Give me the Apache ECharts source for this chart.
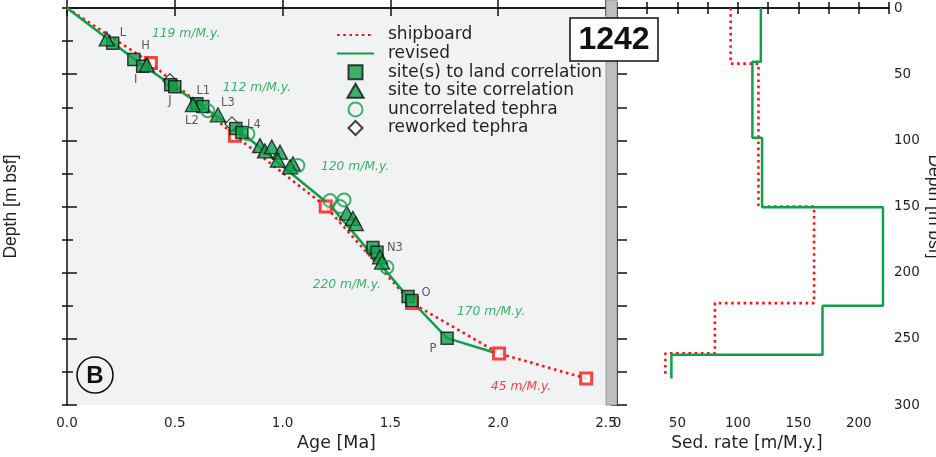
<!DOCTYPE html>
<html>
<head>
<meta charset="utf-8">
<script src="https://cdn.jsdelivr.net/npm/echarts@6/dist/echarts.min.js"></script>
<style>html,body{margin:0;padding:0;background:#fff}#c{width:936px;height:457px}</style>
</head>
<body>
<div id="c"></div>
<script>
// ---- data (age [Ma], depth [m bsf]) ----
const shipAge   = [0, 0.389, 0.779, 1.20, 1.60, 2.004, 2.408];
const shipDepth = [0, 41.5, 96.5, 150, 223, 261, 280];
const revAge    = [0, 0.324, 0.839, 1.22, 1.59, 1.763, 1.985];
const revDepth  = [0, 40, 98, 149, 220, 249.5, 260.5];

const landTies = [[0.212,26.6],[0.310,39],[0.351,44],[0.481,58],[0.500,59.5],[0.602,72.4],[0.630,74.5],
                  [0.783,91],[0.811,94],[1.419,181],[1.438,184.6],[1.582,218],[1.600,221],[1.763,249.5]];
const siteTies = [[0.184,23.4],[0.370,43],[0.584,73],[0.700,80.7],[0.895,104],[0.918,108],[0.950,105],
                  [0.988,109],[0.978,115],[1.048,117.8],[1.034,120],[1.298,155],[1.326,159],[1.340,163],
                  [1.452,188],[1.461,192]];
const uncorrTephra = [[0.653,77.6],[0.839,95],[1.071,119],[1.220,145.5],[1.285,145],[1.266,150],[1.484,196]];
const reworkTephra = [[0.477,55],[0.765,87.6]];

const tieLabels = [['L',0.259,19.2],['H',0.365,29],['I',0.319,54.6],['J',0.477,70.5],['L1',0.632,63],
                   ['L2',0.579,85.6],['L3',0.746,72],['L4',0.867,88.5],['N3',1.521,181],['O',1.665,215.4],['P',1.698,257.6]];
const rateLabelsRev = [['119 m/M.y.',0.552,19.2],['112 m/M.y.',0.881,60.6],['120 m/M.y.',1.336,120.2],
                       ['220 m/M.y.',1.298,209.2],['170 m/M.y.',1.967,229.5]];
const rateLabelsShip = [['45 m/M.y.',2.106,286]];

// sedimentation-rate steps (right panel)
const shipRateDepths = [0, 42, 150, 223, 261, 277];
const shipRates      = [94, 117, 163, 81, 40];
const revRateDepths  = [0, 40.7, 98, 150.5, 225, 262, 280];
const revRates       = [119, 112, 120, 220, 170, 45];

const ageTicks = {min:0, max:2.5, interval:0.5};
const rateTicks = {min:0, max:225, interval:25};
const depthTicks = {min:0, max:300};

// ---- helpers ----
const zip = (a,b) => a.map((v,i)=>[v,b[i]]);
function steps(depths, rates){
  const pts=[];
  for(let i=0;i<rates.length;i++){ pts.push([rates[i],depths[i]]); pts.push([rates[i],depths[i+1]]); }
  return pts;
}
const FONT = 'DejaVu Sans, Verdana, sans-serif';
const FONT_N = 'Liberation Sans, Arial, Helvetica, sans-serif';
const TXT = '#231f20';
const GREEN = '#0fa04b';
const RED = '#ff1212';
const axLine = {show:true, lineStyle:{color:'#111', width:1.5}};
const tick = (len) => ({inside:true, length:len, lineStyle:{color:'#111', width:1.5}});

const chart = echarts.init(document.getElementById('c'), null, {renderer:'canvas'});
chart.setOption({
  animation:false,
  backgroundColor:'#fff',
  textStyle:{fontFamily:FONT},
  grid:[
    {left:67, top:8, width:539, height:397, show:true, backgroundColor:'#f1f2f4', borderWidth:0, containLabel:false, outerBoundsMode:'none'},
    {left:617, top:8, width:272, height:397, show:false, containLabel:false, outerBoundsMode:'none'}
  ],
  legend:{
    data:[
      {name:'shipboard', itemStyle:{opacity:0}},
      {name:'revised', itemStyle:{opacity:0}},
      {name:'site(s) to land correlation', icon:'path://M0,0H10V10H0Z'},
      {name:'site to site correlation', icon:'path://M5,0L10.5,9.5H-0.5Z'},
      {name:'uncorrelated tephra'},
      {name:'reworked tephra', icon:'path://M5,0L10,5L5,10L0,5Z'}
    ],
    orient:'vertical', left:336, top:26.5, padding:0, itemWidth:37, itemHeight:14, itemGap:1.6,
    symbolKeepAspect:true,
    textStyle:{fontSize:17, color:TXT, fontFamily:FONT, padding:[0,0,0,9]},
    selectedMode:false
  },
  xAxis:[
    {gridIndex:0, type:'value', position:'bottom', ...ageTicks, axisLine:axLine, axisTick:tick(8),
     axisLabel:{formatter:v=>v.toFixed(1), fontSize:13.5, color:TXT, margin:11},
     splitLine:{show:false},
     name:'Age [Ma]', nameLocation:'middle', nameGap:26, nameTextStyle:{fontSize:17.5, color:TXT}},
    {gridIndex:0, type:'value', position:'top', ...ageTicks, axisLine:axLine, axisTick:tick(8),
     axisLabel:{show:false}, splitLine:{show:false}},
    {gridIndex:1, type:'value', position:'bottom', ...rateTicks, axisLine:axLine, axisTick:tick(6),
     axisLabel:{formatter:v=> (v%50===0 ? String(v) : ''), fontSize:13.5, color:TXT, margin:11},
     splitLine:{show:false},
     name:'Sed. rate [m/M.y.]', nameLocation:'middle', nameGap:26, nameTextStyle:{fontSize:17, color:TXT, padding:[0,12,0,0]}},
    {gridIndex:1, type:'value', position:'top', ...rateTicks, axisLine:axLine, axisTick:tick(6),
     axisLabel:{show:false}, splitLine:{show:false}}
  ],
  yAxis:[
    {gridIndex:0, type:'value', position:'left', inverse:true, ...depthTicks, interval:25, axisLine:axLine, axisTick:tick(6),
     axisLabel:{show:false}, splitLine:{show:false},
     name:'Depth [m bsf]', nameLocation:'middle', nameRotate:90, nameGap:47, nameTextStyle:{fontSize:17.5, color:TXT, fontFamily:FONT_N}},
    {gridIndex:0, type:'value', position:'right', inverse:true, ...depthTicks, interval:25, axisLine:{show:false}, axisTick:tick(5),
     axisLabel:{show:false}, splitLine:{show:false}},
    {gridIndex:1, type:'value', position:'left', inverse:true, ...depthTicks, interval:25, axisLine:axLine, axisTick:tick(10),
     axisLabel:{show:false}, splitLine:{show:false}},
    {gridIndex:1, type:'value', position:'right', inverse:true, ...depthTicks, interval:25, axisLine:axLine, axisTick:tick(6),
     axisLabel:{formatter:v=> (v%50===0 ? String(v) : ''), fontSize:13.5, color:TXT, margin:5},
     splitLine:{show:false},
     name:'Depth [m bsf]', nameLocation:'middle', nameRotate:-90, nameGap:36, nameTextStyle:{fontSize:17.5, color:TXT, fontFamily:FONT_N}},
    {gridIndex:0, type:'value', position:'left', offset:0, inverse:true, ...depthTicks, interval:50, axisLine:{show:false}, axisTick:tick(10),
     axisLabel:{show:false}, splitLine:{show:false}}
  ],
  graphic:[
    {type:'rect', shape:{x:606, y:0, width:11, height:405}, style:{fill:'#bdbec1', stroke:'#8f9093', lineWidth:0.8}, z:1},
    {type:'rect', shape:{x:570, y:18, width:88, height:43}, style:{fill:'#fff', stroke:'#111', lineWidth:1.5}, z:20},
    {type:'text', x:614, y:40, style:{text:'1242', font:'bold 32px '+FONT_N, fill:'#111', textAlign:'center', textVerticalAlign:'middle'}, z:21},
    {type:'circle', shape:{cx:95, cy:375, r:18}, style:{fill:'none', stroke:'#111', lineWidth:1.6}, z:20},
    {type:'text', x:95, y:376, style:{text:'B', font:'bold 24px '+FONT_N, fill:'#111', textAlign:'center', textVerticalAlign:'middle'}, z:21}
  ],
  series:[
    {name:'shipboard', type:'line', xAxisIndex:0, yAxisIndex:0, data:zip(shipAge,shipDepth), symbol:'none',
     lineStyle:{color:RED, width:2.6, type:[2.6,3.6]}, itemStyle:{color:RED}, z:2},
    {name:'revised', type:'line', xAxisIndex:0, yAxisIndex:0, data:zip(revAge,revDepth), symbol:'none',
     lineStyle:{color:GREEN, width:2.5}, itemStyle:{color:GREEN}, z:3},
    {name:'shipboard ties', type:'scatter', xAxisIndex:0, yAxisIndex:0, data:zip(shipAge,shipDepth).slice(1),
     symbol:'rect', symbolSize:11, itemStyle:{color:'#fff', borderColor:RED, borderWidth:3}, z:4},
    {name:'reworked tephra', type:'scatter', xAxisIndex:0, yAxisIndex:0, data:reworkTephra,
     symbol:'diamond', symbolSize:14, itemStyle:{color:'#fff', borderColor:'#111', borderWidth:1.2}, z:5},
    {name:'site(s) to land correlation', type:'scatter', xAxisIndex:0, yAxisIndex:0, data:landTies,
     symbol:'rect', symbolSize:12, itemStyle:{color:GREEN, borderColor:'#111', borderWidth:1.5}, z:6},
    {name:'site to site correlation', type:'scatter', xAxisIndex:0, yAxisIndex:0, data:siteTies,
     symbol:'triangle', symbolSize:[15,14], itemStyle:{color:GREEN, borderColor:'#111', borderWidth:1.3}, z:7},
    {name:'uncorrelated tephra', type:'scatter', xAxisIndex:0, yAxisIndex:0, data:uncorrTephra,
     symbol:'circle', symbolSize:13, itemStyle:{color:'rgba(0,0,0,0)', borderColor:GREEN, borderWidth:2}, z:8},
    {name:'tie labels', type:'scatter', xAxisIndex:0, yAxisIndex:0, silent:true, symbolSize:0,
     data:tieLabels.map(d=>({name:d[0], value:[d[1],d[2]]})),
     label:{show:true, position:'inside', formatter:'{b}', fontSize:11.5, color:'#333', fontFamily:FONT}, z:9},
    {name:'rate labels', type:'scatter', xAxisIndex:0, yAxisIndex:0, silent:true, symbolSize:0,
     data:rateLabelsRev.map(d=>({name:d[0], value:[d[1],d[2]]})),
     label:{show:true, position:'inside', formatter:'{b}', fontSize:12.3, fontStyle:'italic', color:GREEN, fontFamily:FONT}, z:9},
    {name:'rate labels ship', type:'scatter', xAxisIndex:0, yAxisIndex:0, silent:true, symbolSize:0,
     data:rateLabelsShip.map(d=>({name:d[0], value:[d[1],d[2]]})),
     label:{show:true, position:'inside', formatter:'{b}', fontSize:12.3, fontStyle:'italic', color:RED, fontFamily:FONT}, z:9},
    {name:'shipboard rate', type:'line', xAxisIndex:2, yAxisIndex:3, data:steps(shipRateDepths, shipRates), symbol:'none',
     lineStyle:{color:RED, width:2.6, type:[2.6,3.6]}, z:2},
    {name:'revised rate', type:'line', xAxisIndex:2, yAxisIndex:3, data:steps(revRateDepths, revRates), symbol:'none',
     lineStyle:{color:GREEN, width:2.5}, z:3}
  ]
});
</script>
</body>
</html>
